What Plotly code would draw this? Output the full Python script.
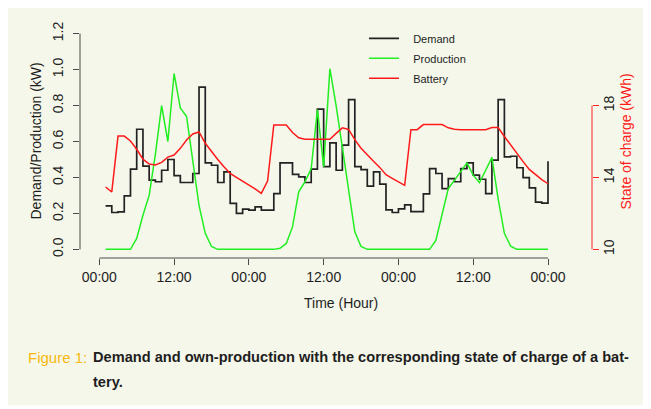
import plotly.graph_objects as go

# ---- data (hourly, 3 days) ----
hours = list(range(1, 73))

demand = [0.242, 0.205, 0.209, 0.297, 0.446, 0.668, 0.463, 0.385, 0.376, 0.44,
          0.50, 0.41, 0.372, 0.372, 0.422, 0.903, 0.481, 0.468, 0.372, 0.431,
          0.256, 0.20, 0.224, 0.218, 0.236, 0.218, 0.218, 0.31, 0.481, 0.481,
          0.417, 0.403, 0.372, 0.446, 0.78, 0.46, 0.592, 0.44, 0.58, 0.833,
          0.46, 0.444, 0.352, 0.431, 0.363, 0.22, 0.205, 0.225, 0.248, 0.21,
          0.21, 0.309, 0.449, 0.422, 0.338, 0.394, 0.376, 0.449, 0.481, 0.413,
          0.39, 0.31, 0.496, 0.833, 0.515, 0.518, 0.454, 0.399, 0.342, 0.263,
          0.257, 0.49]

production = [0, 0, 0, 0, 0, 0.061, 0.19, 0.30, 0.53, 0.80,
              0.60, 0.978, 0.787, 0.739, 0.485, 0.245, 0.089, 0.016, 0, 0,
              0, 0, 0, 0, 0, 0, 0, 0, 0.006, 0.033,
              0.125, 0.32, 0.376, 0.449, 0.777, 0.459, 1.005, 0.80, 0.566, 0.332,
              0.098, 0.016, 0, 0, 0, 0, 0, 0, 0, 0,
              0, 0, 0, 0.05, 0.2, 0.338, 0.385, 0.43, 0.481, 0.413,
              0.371, 0.44, 0.512, 0.281, 0.089, 0.018, 0, 0, 0, 0,
              0, 0]

battery = [13.47, 13.2, 16.3, 16.3, 16.03, 15.57, 15.02, 14.75, 14.69, 14.84,
           15.13, 15.25, 15.62, 16.08, 16.42, 16.53, 15.9, 15.43, 15.0, 14.6,
           14.22, 14.0, 13.8, 13.6, 13.37, 13.12, 13.8, 16.92, 16.92, 16.92,
           16.5, 16.21, 16.12, 16.12, 16.12, 16.12, 16.12, 16.45, 16.76, 16.67,
           16.1, 15.63, 15.24, 14.9, 14.56, 14.15, 13.95, 13.76, 13.56, 16.66,
           16.66, 16.94, 16.94, 16.94, 16.94, 16.76, 16.68, 16.66, 16.66, 16.66,
           16.66, 16.66, 16.78, 16.78, 16.28, 15.8, 15.32, 14.88, 14.45, 14.15,
           13.88, 13.65]

x_tickvals = [0, 12, 24, 36, 48, 60, 72]
x_ticktext = ["00:00", "12:00", "00:00", "12:00", "00:00", "12:00", "00:00"]
y_tickvals = [0, 0.2, 0.4, 0.6, 0.8, 1.0, 1.2]
y_ticktext = ["0.0", "0.2", "0.4", "0.6", "0.8", "1.0", "1.2"]
y2_tickvals = [10, 14, 18]

# ---- styling ----
OFF = 8                      # page body margin of the html file
W, H = 651 - OFF, 409 - OFF  # figure size
# plot region in page pixels: left 80, right 592, top 24.7, bottom 258.3
ML = 80 - OFF
MR = W - (592 - OFF)
MT = 24.7 - OFF
MB = H - (258.3 - OFF)
PW, PH = W - ML - MR, H - MT - MB
FONT = "Liberation Sans, Arial, sans-serif"
AX = "#4a4a4a"
TXT = "#1e1e1e"
BG = "#f4f7ea"
NB = "\u00a0\u00a0\u00a0"


def px_x(p):
    """page pixel x -> paper coordinate"""
    return (p - OFF - ML) / PW


def px_y(p):
    """page pixel y -> paper coordinate"""
    return (H - MB - (p - OFF)) / PH


fig = go.Figure()
fig.add_trace(go.Scatter(x=hours, y=demand, name=NB + "Demand", mode="lines",
                         line=dict(color="#222222", width=1.7, shape="hv"),
                         legendgroup="a"))
fig.add_trace(go.Scatter(x=hours, y=production, name=NB + "Production", mode="lines",
                         line=dict(color="#22ee22", width=1.5),
                         legendgroup="b"))
fig.add_trace(go.Scatter(x=hours, y=battery, name=NB + "Battery", mode="lines",
                         line=dict(color="#ff1a1a", width=1.5),
                         yaxis="y2", legendgroup="c"))

shapes = [
    # panel background
    dict(type="rect", xref="paper", yref="paper", x0=px_x(0), x1=px_x(660),
         y0=px_y(406), y1=px_y(0), fillcolor=BG, line=dict(width=0), layer="below"),
    # axis lines (R style: span ticks only)
    dict(type="line", xref="x", yref="paper", x0=0, x1=72, y0=0, y1=0,
         line=dict(color=AX, width=1)),
    dict(type="line", xref="paper", yref="y", x0=0, x1=0, y0=0, y1=1.2,
         line=dict(color=AX, width=1)),
    dict(type="line", xref="paper", yref="y2", x0=1, x1=1, y0=10, y1=18,
         line=dict(color="#ff2222", width=1)),
]

CAPF = "Liberation Sans, Arial, sans-serif"
annotations = [
    dict(text="Demand/Production (kW)", xref="paper", yref="paper",
         x=px_x(35), y=0.5, textangle=-90, showarrow=False,
         xanchor="center", yanchor="middle", font=dict(family=FONT, size=14, color=TXT)),
    dict(text="Time (Hour)", xref="paper", yref="paper",
         x=px_x(341), y=px_y(303), showarrow=False,
         xanchor="center", yanchor="middle", font=dict(family=FONT, size=14, color=TXT)),
    dict(text="State of charge (kWh)", xref="paper", yref="paper",
         x=px_x(625), y=0.5, textangle=-90, showarrow=False,
         xanchor="center", yanchor="middle", font=dict(family=FONT, size=14, color="#ff1a1a")),
    dict(text="Figure 1:", xref="paper", yref="paper",
         x=px_x(26), y=px_y(358), showarrow=False,
         xanchor="left", yanchor="middle",
         font=dict(family=CAPF, size=15, color="#f7b90c")),
    dict(text="<b>Demand and own-production with the corresponding state of charge of a bat-</b>",
         xref="paper", yref="paper", x=px_x(91), y=px_y(358), showarrow=False,
         xanchor="left", yanchor="middle",
         font=dict(family=CAPF, size=14.6, color=TXT)),
    dict(text="<b>tery.</b>", xref="paper", yref="paper", x=px_x(91), y=px_y(383),
         showarrow=False, xanchor="left", yanchor="middle",
         font=dict(family=CAPF, size=14.6, color=TXT)),
]

fig.update_layout(
    width=W, height=H,
    margin=dict(l=ML, r=MR, t=MT, b=MB, pad=0),
    paper_bgcolor="white",
    plot_bgcolor="rgba(0,0,0,0)",
    font=dict(family=FONT, size=14, color=TXT),
    showlegend=True,
    legend=dict(x=px_x(364), y=px_y(23.5), xanchor="left", yanchor="top",
                bgcolor="rgba(0,0,0,0)", borderwidth=0, tracegroupgap=1,
                font=dict(family=FONT, size=11, color=TXT)),
    xaxis=dict(range=[-3.1, 79.06], tickvals=x_tickvals, ticktext=x_ticktext,
               ticks="outside", ticklen=6, tickcolor=AX, tickwidth=1,
               showline=False, showgrid=False, zeroline=False,
               ticklabelstandoff=0,
               tickfont=dict(family=FONT, size=14, color=TXT)),
    yaxis=dict(range=[-0.048, 1.248], tickvals=y_tickvals, ticktext=y_ticktext,
               ticks="outside", ticklen=6, tickcolor=AX, tickwidth=1, tickangle=-90,
               showline=False, showgrid=False, zeroline=False,
               ticklabelstandoff=4,
               tickfont=dict(family=FONT, size=14, color=TXT)),
    yaxis2=dict(range=[9.52, 22.48], tickvals=y2_tickvals, overlaying="y", side="right",
                ticks="outside", ticklen=6, tickcolor="#ff2222", tickwidth=1, tickangle=-90,
                showline=False, showgrid=False, zeroline=False,
                ticklabelstandoff=-2,
                tickfont=dict(family=FONT, size=14, color=TXT)),
    shapes=shapes,
    annotations=annotations,
)

fig.write_html("out.html")
